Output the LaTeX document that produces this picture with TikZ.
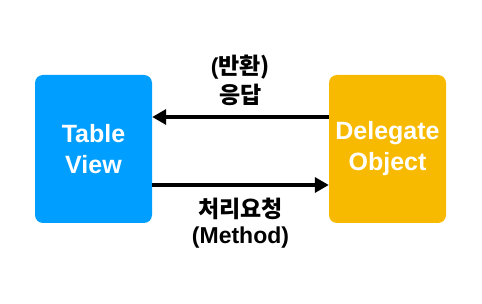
\documentclass[tikz,border=0pt]{standalone}
\usepackage{fontspec}
\setmainfont{Liberation Sans}
\newfontfamily\krfont{Noto Sans CJK KR Bold}
\usetikzlibrary{arrows.meta}
\definecolor{tvblue}{RGB}{0,159,255}
\definecolor{dgorange}{RGB}{247,186,0}
\tikzset{
  box/.style={rounded corners=8pt, minimum width=117pt, minimum height=148pt,
    inner sep=0pt, text=white, align=center,
    font=\fontsize{25}{31}\selectfont\bfseries},
  lbl/.style={inner sep=0pt, font=\fontsize{23}{28}\selectfont\bfseries},
  arr/.style={line width=3.4pt, -{Triangle[length=14pt,width=15pt]}}
}
\begin{document}
\begin{tikzpicture}[x=1pt,y=-1pt]
\useasboundingbox (0,0) rectangle (482,304);
\node[box, fill=tvblue] (tv) at (93.5,149) {Table\\View};
\node[box, fill=dgorange] (dg) at (387.5,149) {Delegate\\Object};
\draw[arr] ([yshift=32pt]dg.west) -- ([yshift=32pt]tv.east);
\draw[arr] ([yshift=-36pt]tv.east) -- ([yshift=-36pt]dg.west);
\node[lbl] (t1) at (240.5,67) {(\krfont 반환)};
\node[lbl] (t2) at (240.5,95) {\krfont 응답};
\node[lbl] (b1) at (240.5,209) {\krfont 처리요청};
\node[lbl] (b2) at (240.5,238) {(Method)};
\end{tikzpicture}
\end{document}
